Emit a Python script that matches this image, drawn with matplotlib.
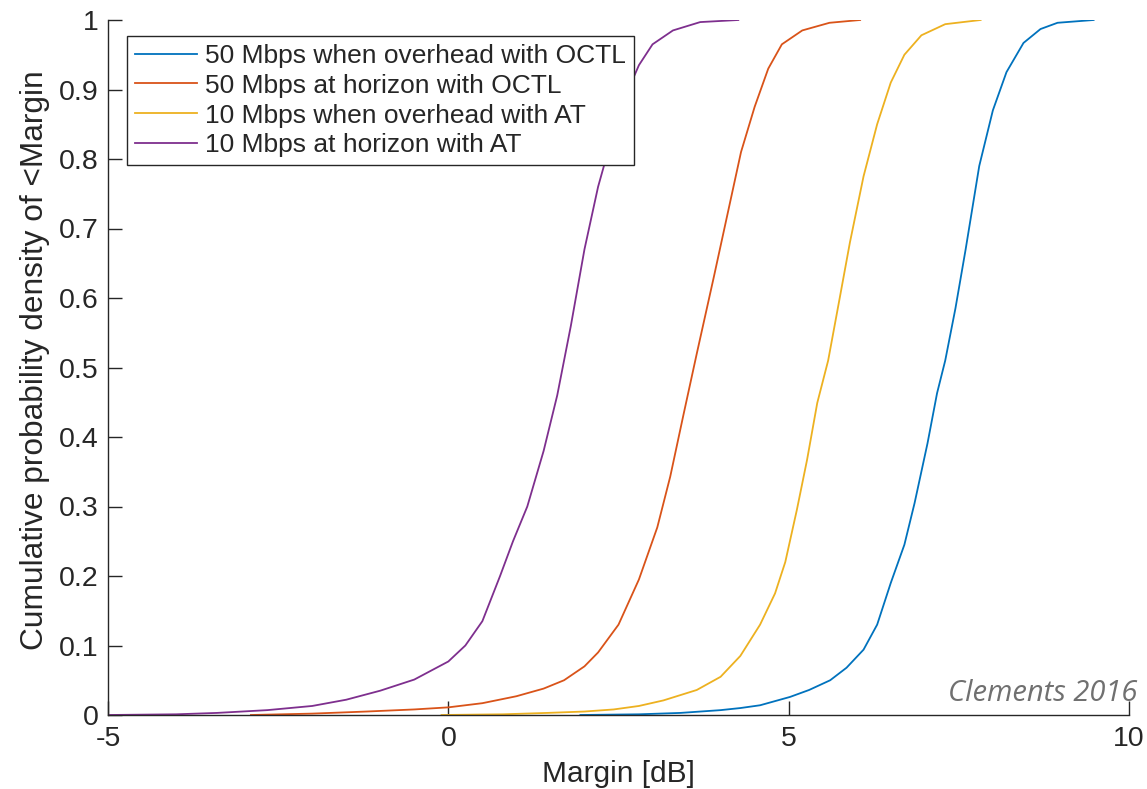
import matplotlib
matplotlib.use("Agg")
import matplotlib.pyplot as plt
from matplotlib.ticker import FuncFormatter

# CDF curves: margin [dB] vs cumulative probability
blue_x = [1.94, 2.8, 3.41, 4.0, 4.29, 4.58, 5.02, 5.3, 5.61, 5.85, 6.1, 6.3,
          6.5, 6.7, 6.85, 7.04, 7.18, 7.3, 7.45, 7.6, 7.8, 8.0, 8.2, 8.45,
          8.7, 8.95, 9.48]
blue_y = [0.0, 0.001, 0.003, 0.007, 0.01, 0.014, 0.026, 0.036, 0.05, 0.068,
          0.094, 0.13, 0.19, 0.245, 0.305, 0.391, 0.463, 0.51, 0.585, 0.67,
          0.79, 0.87, 0.925, 0.967, 0.987, 0.996, 1.0]

orange_x = [-2.9, -2.0, -1.2, -0.5, 0.0, 0.5, 1.0, 1.4, 1.7, 2.0, 2.2, 2.5,
            2.8, 3.07, 3.26, 3.45, 3.65, 3.9, 4.1, 4.3, 4.5, 4.7, 4.9, 5.2,
            5.6, 6.05]
orange_y = [0.0, 0.002, 0.005, 0.008, 0.011, 0.017, 0.027, 0.038, 0.05, 0.07,
            0.09, 0.13, 0.195, 0.27, 0.343, 0.43, 0.52, 0.63, 0.72, 0.81,
            0.875, 0.93, 0.965, 0.985, 0.996, 1.0]

yellow_x = [-0.1, 0.8, 1.45, 2.0, 2.43, 2.8, 3.16, 3.65, 4.0, 4.29, 4.58, 4.8,
            4.95, 5.12, 5.27, 5.42, 5.58, 5.75, 5.9, 6.1, 6.3, 6.5, 6.7,
            6.95, 7.3, 7.82]
yellow_y = [0.0, 0.001, 0.003, 0.005, 0.008, 0.013, 0.021, 0.036, 0.055,
            0.085, 0.13, 0.175, 0.22, 0.295, 0.367, 0.449, 0.51, 0.6, 0.68,
            0.775, 0.85, 0.91, 0.95, 0.978, 0.994, 1.0]

purple_x = [-5.0, -4.0, -3.4, -2.66, -2.0, -1.5, -1.0, -0.5, 0.0, 0.25, 0.5,
            0.76, 0.95, 1.16, 1.4, 1.6, 1.8, 2.0, 2.2, 2.4, 2.6, 2.8, 3.0,
            3.3, 3.7, 4.26]
purple_y = [0.0, 0.001, 0.003, 0.007, 0.013, 0.022, 0.035, 0.051, 0.077, 0.1,
            0.135, 0.2, 0.25, 0.3, 0.38, 0.46, 0.56, 0.67, 0.76, 0.83, 0.89,
            0.935, 0.965, 0.985, 0.997, 1.0]

labels = ["50 Mbps when overhead with OCTL",
          "50 Mbps at horizon with OCTL",
          "10 Mbps when overhead with AT",
          "10 Mbps at horizon with AT"]
colors = ["#0072BD", "#D95319", "#EDB120", "#7E2F8E"]

xticks = [-5, 0, 5, 10]
yticks = [0, 0.1, 0.2, 0.3, 0.4, 0.5, 0.6, 0.7, 0.8, 0.9, 1]

plt.rcParams['font.family'] = ['Liberation Sans', 'DejaVu Sans']
plt.rcParams['axes.unicode_minus'] = False
dark = "#262626"

fig = plt.figure(figsize=(11.47, 7.89), dpi=100)
ax = fig.add_axes([108 / 1147, 74 / 789, 1021 / 1147, 695 / 789])

series = [(blue_x, blue_y), (orange_x, orange_y),
          (yellow_x, yellow_y), (purple_x, purple_y)]
for (xs, ys), c, lab in zip(series, colors, labels):
    ax.plot(xs, ys, color=c, lw=1.3, label=lab)

ax.set_xlim(-5, 10)
ax.set_ylim(0, 1)
ax.set_xticks(xticks)
ax.set_yticks(yticks)
ax.yaxis.set_major_formatter(FuncFormatter(lambda v, p: "%g" % v))
ax.tick_params(direction="in", length=10, width=1, colors=dark,
               labelsize=20.5)
ax.tick_params(axis="x", pad=8)
ax.tick_params(axis="y", pad=7)

for s in ["top", "right"]:
    ax.spines[s].set_visible(False)
for s in ["left", "bottom"]:
    ax.spines[s].set_color(dark)
    ax.spines[s].set_linewidth(1)

ax.set_xlabel("Margin [dB]", fontsize=21.5, color=dark)
ax.set_ylabel("Cumulative probability density of <Margin", fontsize=22.8, color=dark)
ax.xaxis.set_label_coords(0.5, -0.065)
ax.yaxis.set_label_coords(-(108 - 50) / 1021, 0.51)

leg = ax.legend(loc="upper left", bbox_to_anchor=(19 / 1021, 1 - 16 / 695),
                fontsize=19, frameon=True, fancybox=False, borderaxespad=0,
                handlelength=2.35, handletextpad=0.3, labelspacing=0.22,
                borderpad=0.3, framealpha=1)
leg.get_frame().set_edgecolor(dark)
leg.get_frame().set_linewidth(1)
for t in leg.get_texts():
    t.set_color(dark)

fig.text(1137 / 1147, 1 - 701 / 789, "Clements 2016", ha="right", va="baseline",
         fontsize=21, style="italic", color="#707070", family="Open Sans")

fig.savefig("out.png", dpi=100)
